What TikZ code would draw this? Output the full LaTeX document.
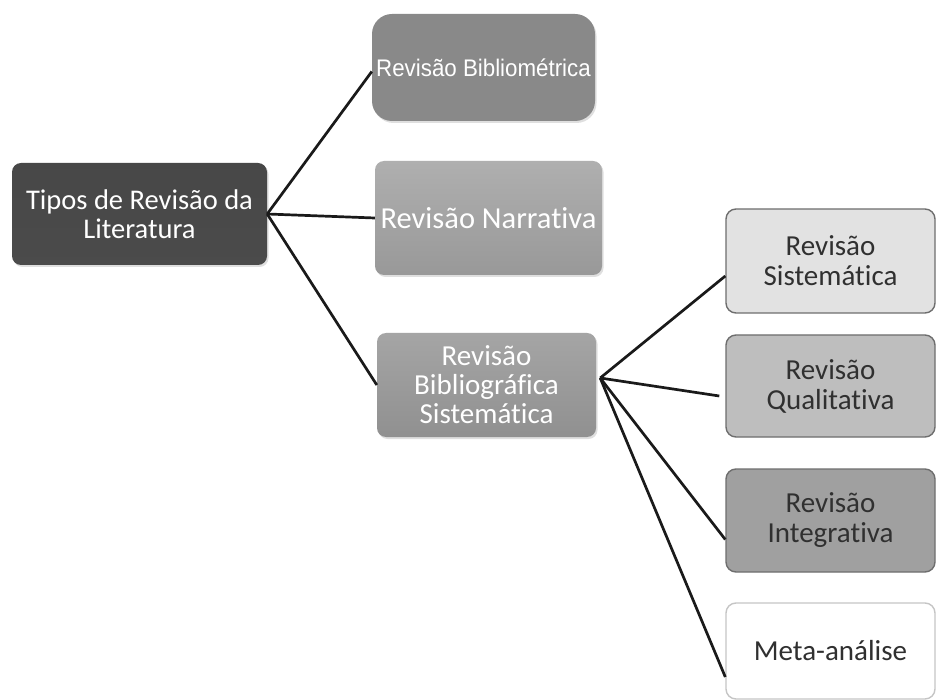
\documentclass[tikz,border=0pt]{standalone}
\usepackage{fontspec}
\setmainfont{Carlito}[Ligatures={NoCommon}]
\newfontfamily\arialfont{Liberation Sans}
\usetikzlibrary{shadows}
\definecolor{rootfill}{HTML}{585858}
\definecolor{biblfill}{HTML}{898989}
\definecolor{narrfill}{HTML}{A6A6A6}
\definecolor{bsisfill}{HTML}{9B9B9B}
\definecolor{sisfill}{HTML}{E2E2E2}
\definecolor{qualfill}{HTML}{BEBEBE}
\definecolor{intfill}{HTML}{A0A0A0}
\definecolor{edgeline}{HTML}{6E6E6E}
\definecolor{linkcol}{HTML}{1A1A1A}
\definecolor{darktext}{HTML}{303030}
\tikzset{
  leftbox/.style={rounded corners=9pt, text=white, align=center, inner sep=1pt,
    drop shadow={shadow xshift=1.5pt, shadow yshift=-2pt, opacity=0.25}},
  rightbox/.style={rounded corners=10pt, draw=edgeline, line width=1.4pt,
    text=darktext, align=center, minimum width=209pt, inner sep=1pt,
    font=\fontsize{29}{30}\selectfont},
  link/.style={draw=linkcol, line width=2.7pt},
}
\begin{document}
\begin{tikzpicture}[x=1pt,y=-1pt]
\useasboundingbox[fill=white] (0,0) rectangle (937,700);

% first level
\node[leftbox, top color=rootfill!110!white, bottom color=rootfill!85!black,
      minimum width=255pt, minimum height=102pt,
      font=\fontsize{28.5}{29}\selectfont] (root) at (139.5,214)
  {Tipos de Revisão da\\Literatura};

% second level
\node[leftbox, rounded corners=20pt, fill=biblfill,
      minimum width=223pt, minimum height=107pt,
      font=\arialfont\fontsize{24}{26}\selectfont] (bibl) at (483.5,67.5)
  {\scalebox{0.93}[1]{Revisão Bibliométrica}};
\node[leftbox, top color=narrfill!90!white, bottom color=narrfill!92!black,
      minimum width=227pt, minimum height=114pt,
      font=\fontsize{30.5}{32}\selectfont] (narr) at (488.5,218)
  {Revisão Narrativa};
\node[leftbox, top color=bsisfill!90!white, bottom color=bsisfill!93!black,
      minimum width=219pt, minimum height=104pt,
      font=\fontsize{29}{29}\selectfont] (bsis) at (486.5,385)
  {Revisão\\Bibliográfica\\Sistemática};

% third level
\node[rightbox, fill=sisfill, minimum height=104pt] (sis) at (830.5,261)
  {Revisão\\Sistemática};
\node[rightbox, fill=qualfill, minimum height=102pt] (qual) at (830.5,386)
  {Revisão\\Qualitativa};
\node[rightbox, fill=intfill, minimum height=103pt] (integ) at (830.5,520.5)
  {Revisão\\Integrativa};
\node[rightbox, fill=white, draw=edgeline!40, minimum height=96pt] (meta) at (830.5,651)
  {Meta-análise};

% connectors
\coordinate (hub) at ([xshift=4pt,yshift=7pt]bsis.east);
\draw[link] (root.east) -- ([yshift=-4pt]bibl.west);
\draw[link] (root.east) -- (narr.west);
\draw[link] (root.east) -- (bsis.west);
\draw[link] (hub) -- ([yshift=-15pt]sis.west);
\draw[link] (hub) -- ([yshift=-10pt,xshift=-6pt]qual.west);
\draw[link] (hub) -- ([yshift=-19pt]integ.west);
\draw[link] (hub) -- ([yshift=-26pt]meta.west);
\end{tikzpicture}
\end{document}
